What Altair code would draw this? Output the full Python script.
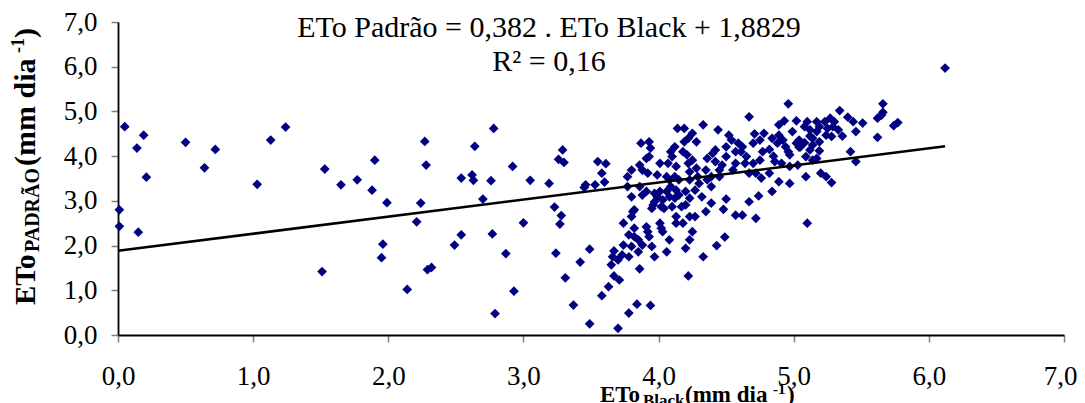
import altair as alt
import pandas as pd

# ---- data ----
eto_black = [
    0.05, 0.01, 0.01, 0.14, 0.19, 0.21, 0.15, 0.50, 0.64, 0.72, 1.03, 1.13, 1.24, 1.53, 1.51, 1.65, 1.77, 1.88, 1.90, 1.99, 1.96, 1.95,
    2.14, 2.21, 2.24, 2.27, 2.28, 2.29, 2.32, 2.49, 2.54, 2.54, 2.62, 2.63, 2.64, 2.70, 2.76, 2.77, 2.78, 2.79, 2.87, 2.92, 2.93, 3.00,
    3.05, 3.19, 3.23, 3.24, 3.27, 3.28, 3.26, 3.29, 3.30, 3.31, 3.37, 3.42, 3.45, 3.46, 3.49, 3.49, 3.53, 3.55, 3.61, 3.58, 3.60, 3.58,
    3.63, 3.67, 3.67, 3.70,
    3.71, 3.78, 3.84, 3.94, 3.86, 3.65, 3.66, 3.70, 3.73, 3.74, 3.78, 3.80, 3.85, 3.88, 3.95, 3.97, 4.06, 3.78, 3.82, 3.85, 3.92, 3.93,
    3.91, 3.82, 3.74, 3.80, 3.81, 3.82, 3.95, 3.96, 4.01, 4.02, 4.03, 4.08, 4.02, 4.04, 4.13, 4.13, 4.18, 4.23, 4.27, 4.17, 4.20, 4.25,
    4.23, 4.20, 4.22, 4.33, 4.43, 4.49, 4.35, 4.39, 4.32, 4.48, 4.50, 4.57, 4.62, 4.67, 4.72, 4.74, 4.84, 4.89, 4.97, 5.10, 5.09, 5.20,
    5.24, 5.28, 5.42, 5.46, 5.62, 5.74, 5.77, 5.62, 5.66, 5.66, 5.65, 5.51, 5.46, 5.44, 5.40, 5.34, 5.36,
    4.96, 4.67, 4.89, 4.93, 5.02, 5.10, 5.17, 5.04, 5.08, 5.12, 5.14, 4.97, 5.09, 5.19, 5.14,
    4.78, 4.84, 4.71, 4.75, 4.70, 4.88, 4.82, 4.85, 4.86, 4.77, 4.75, 4.70, 4.67, 4.72, 4.82, 4.62, 4.59, 4.61, 4.65, 4.64, 4.57, 4.52,
    4.54, 4.44, 4.50, 4.47, 4.42, 4.40, 4.42, 4.45, 4.35, 4.39, 4.45, 4.28, 4.33, 4.25, 4.22, 4.19, 4.14, 4.19, 4.12, 4.09, 4.18, 4.21,
    4.10, 4.25, 4.22, 4.13, 4.07, 4.01, 3.93, 3.91, 3.87, 3.93, 3.94, 3.80, 3.86, 3.88, 3.77, 3.92, 3.99, 4.06, 4.12, 4.23, 4.28, 4.29,
    4.23, 4.15, 4.08, 3.77, 3.86, 3.91, 3.88, 3.80, 4.01, 4.06, 4.09, 4.13, 4.08, 4.12, 4.15, 4.20, 4.27, 4.23, 4.30, 4.36, 4.39, 3.97,
    4.03, 3.99, 3.97, 4.10, 4.50, 4.36, 4.57, 4.55, 4.99, 4.89, 4.92, 4.94, 4.96, 5.02, 5.05, 5.14, 5.17, 5.19, 5.23, 5.27, 5.25, 5.29,
    5.30, 5.33, 5.24, 5.28, 5.19, 5.12, 5.08, 5.04, 5.12, 5.17, 4.91, 4.97, 5.03, 4.76, 6.12,
]
eto_padrao = [
    4.66, 2.80, 2.43, 4.18, 4.47, 3.53, 2.30, 4.31, 3.74, 4.15, 3.37, 4.36, 4.65, 3.71, 1.42, 3.36, 3.47, 3.24, 3.91, 2.96, 2.03, 1.73,
    1.02, 2.53, 2.95, 4.33, 3.80, 1.46, 1.51, 2.01, 2.24, 3.51, 3.58, 3.46, 4.22, 3.04, 3.45, 2.26, 4.62, 0.48, 1.82, 3.77, 0.98, 2.51,
    3.46, 3.39, 2.86, 1.83, 2.48, 2.67, 3.93, 4.14, 3.86, 1.28, 0.67, 1.63, 3.30, 3.36, 1.92, 0.25, 3.36, 3.88, 3.83, 3.62, 3.42, 0.88,
    1.08, 1.88, 1.32, 0.15,
    1.23, 0.49, 0.69, 0.66, 1.48, 1.57, 1.75, 1.68, 1.79, 2.01, 1.75, 1.98, 1.86, 2.01, 1.98, 1.75, 1.86, 2.24, 2.20, 2.13, 2.31, 2.20,
    2.42, 2.39, 2.50, 2.65, 2.76, 2.80, 2.83, 2.91, 2.50, 2.39, 2.31, 2.13, 2.87, 2.83, 2.65, 2.50, 2.50, 2.65, 2.65, 2.87, 2.91, 2.31,
    2.13, 1.94, 1.32, 1.75, 2.00, 2.19, 2.76, 2.95, 3.09, 2.81, 3.04, 2.68, 2.68, 2.98, 2.61, 3.11, 3.21, 3.43, 3.39, 2.50, 3.54, 3.62,
    3.54, 3.41, 4.10, 3.88, 4.42, 4.68, 4.75, 4.85, 5.17, 4.98, 4.92, 4.74, 4.55, 4.77, 4.87, 5.02, 4.45,
    5.17, 4.88, 4.70, 4.79, 4.79, 4.77, 4.77, 4.20, 4.30, 4.45, 4.25, 4.03, 3.99, 4.12, 3.91,
    4.51, 4.40, 4.50, 4.36, 4.29, 4.29, 4.15, 4.00, 3.88, 4.10, 3.91, 3.84, 3.62, 3.62, 3.62, 4.21, 4.29, 4.10, 3.99, 3.84, 3.84, 4.47,
    4.36, 4.59, 3.99, 3.80, 4.14, 4.06, 3.88, 3.69, 3.69, 3.54, 3.54, 4.32, 4.70, 4.51, 4.40, 4.32, 4.62, 4.62, 4.21, 4.10, 4.10, 4.03,
    3.99, 3.91, 3.84, 3.77, 3.84, 3.84, 3.99, 3.95, 4.29, 4.32, 4.18, 3.69, 3.80, 3.69, 3.54, 3.62, 3.58, 3.54, 3.54, 3.65, 3.73, 3.54,
    3.47, 3.47, 3.47, 3.32, 3.32, 3.21, 3.13, 3.09, 3.21, 3.21, 3.32, 3.24, 3.09, 3.06, 3.13, 3.21, 3.24, 3.06, 3.39, 3.47, 3.32, 2.98,
    3.02, 3.09, 3.17, 2.87, 4.21, 3.95, 4.10, 3.69, 4.55, 4.47, 4.36, 4.21, 4.10, 4.29, 4.21, 4.40, 4.55, 4.66, 4.77, 4.85, 4.62, 4.66,
    4.77, 4.59, 4.47, 4.44, 4.32, 4.59, 4.66, 4.36, 4.14, 3.95, 3.84, 3.77, 3.80, 3.51, 5.97,
]
slope = 0.382
intercept = 1.8829
axis_ticks = [0, 1, 2, 3, 4, 5, 6, 7]
equation_text = "ETo Padrão = 0,382 . ETo  Black + 1,8829"
r2_text = "R² = 0,16"

W, H = 946, 313
SERIF = "Liberation Serif"

df = pd.DataFrame({"black": eto_black, "padrao": eto_padrao})
xmax = max(eto_black)
line_df = pd.DataFrame({"black": [0.0, xmax], "padrao": [intercept, intercept + slope * xmax]})

xs = alt.Scale(domain=[0, 7], nice=False, zero=False)
ys = alt.Scale(domain=[0, 7], nice=False, zero=False)
lab = "replace(format(datum.value, '.1f'), '.', ',')"

xaxis = alt.Axis(values=axis_ticks, labelExpr=lab, title=None, grid=False,
                 labelPadding=21, labelFlush=False, labelOverlap=False,
                 labelOffset={"condition": {"test": "datum.value == 7", "value": -4}, "value": 0})
yaxis = alt.Axis(values=axis_ticks, labelExpr=lab, title=None, grid=False,
                 labelPadding=14, labelFlush=False, labelOverlap=False)

points = alt.Chart(df).mark_point(shape="diamond", filled=True, color="#000080",
                                  size=95, opacity=1, strokeWidth=0).encode(
    x=alt.X("black:Q", scale=xs, axis=xaxis),
    y=alt.Y("padrao:Q", scale=ys, axis=yaxis),
)

trend = alt.Chart(line_df).mark_line(color="black", strokeWidth=2.5).encode(
    x=alt.X("black:Q", scale=xs),
    y=alt.Y("padrao:Q", scale=ys),
)

def txt(t, x, y, size, bold=False, angle=0, align="left"):
    kw = dict(text=t, fontSize=size, font=SERIF, color="black", align=align,
              baseline="alphabetic", fontWeight="bold" if bold else "normal")
    if angle:
        kw["angle"] = angle
    return alt.Chart(pd.DataFrame({"a": [0]})).mark_text(**kw).encode(
        x=alt.value(x), y=alt.value(y))

OX, OY = 118, 22  # page position of plot origin

texts = [
    txt(equation_text, 549 - OX, 37 - OY, 30, align="center"),
    txt(r2_text, 549 - OX, 71 - OY, 30, align="center"),
    # y-axis title (rotated)
    txt("ETo", 35 - OX, 305 - OY, 29, bold=True, angle=270),
    txt("PADRÃO", 39 - OX, 252 - OY, 20, bold=True, angle=270),
    txt(" (mm dia", 35 - OX, 166 - OY, 30, bold=True, angle=270),
    txt("-1", 24 - OX, 53 - OY, 18, bold=True, angle=270),
    txt(")", 35 - OX, 38 - OY, 30, bold=True, angle=270),
    # x-axis title
    txt("ETo", 600 - OX, 402 - OY, 23, bold=True),
    txt("Black", 643 - OX, 406 - OY, 17, bold=True),
    txt(" (mm dia", 685 - OX, 402 - OY, 23, bold=True),
    txt("-1", 773 - OX, 394 - OY, 15, bold=True),
    txt(")", 787 - OX, 402 - OY, 23, bold=True),
]

chart = alt.layer(points, trend, *texts).properties(
    width=W, height=H,
    autosize=alt.AutoSizeParams(type="none"),
    padding={"left": OX - 8, "top": OY - 8, "right": 13, "bottom": 76},
    background="white",
).configure_view(stroke=None).configure_axis(
    domainColor="black", domainWidth=1.8, tickColor="#808080", tickWidth=1.5, tickSize=7,
    labelFont=SERIF, labelFontSize=27, labelColor="black",
)

chart.save("out.html", embed_options={"renderer": "svg", "actions": False})
